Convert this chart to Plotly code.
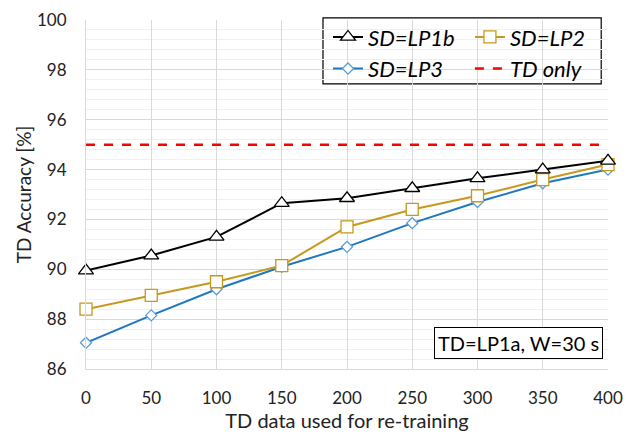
import plotly.graph_objects as go

x_vals = [0, 50, 100, 150, 200, 250, 300, 350, 400]
lp1b = [89.95, 90.55, 91.3, 92.65, 92.85, 93.25, 93.65, 94.0, 94.35]
lp2 = [88.4, 88.95, 89.5, 90.15, 91.7, 92.4, 92.95, 93.6, 94.2]
lp3 = [87.05, 88.15, 89.2, 90.1, 90.9, 91.85, 92.7, 93.45, 94.0]
td_only = [95.0] * len(x_vals)

font_family = "Lato, Open Sans, sans-serif"

fig = go.Figure()
fig.add_trace(go.Scatter(x=x_vals, y=td_only, name="TD only", mode="lines",
                         line=dict(color="#FF0000", width=2.5, dash="dash"),
                         legend="legend2", cliponaxis=False, legendrank=2))
fig.add_trace(go.Scatter(x=x_vals, y=lp3, name="SD=LP3", mode="lines+markers",
                         line=dict(color="#1F77C4", width=2),
                         marker=dict(symbol="diamond", size=8.5, color="white",
                                     line=dict(color="#5B9BD5", width=1.3)),
                         legend="legend", cliponaxis=False, legendrank=2))
fig.add_trace(go.Scatter(x=x_vals, y=lp2, name="SD=LP2", mode="lines+markers",
                         line=dict(color="#C49A1C", width=2),
                         marker=dict(symbol="square", size=12, color="white",
                                     line=dict(color="#C49A1C", width=1.3)),
                         legend="legend2", cliponaxis=False, legendrank=1))
fig.add_trace(go.Scatter(x=x_vals, y=lp1b, name="SD=LP1b", mode="lines+markers",
                         line=dict(color="black", width=2),
                         marker=dict(symbol="triangle-up", size=13, color="white",
                                     line=dict(color="black", width=1.3)),
                         legend="legend", cliponaxis=False, legendrank=1))

legend_font = dict(family=font_family, size=22, color="black", style="italic")

fig.update_layout(
    width=642, height=437,
    margin=dict(l=78, r=42, t=12, b=76, autoexpand=False),
    paper_bgcolor="white", plot_bgcolor="white",
    font=dict(family=font_family, size=17, color="#222"),
    showlegend=True,
    legend=dict(x=0.4636, y=1.011, xanchor="left", yanchor="top",
                bgcolor="rgba(0,0,0,0)", font=legend_font,
                tracegroupgap=0, itemwidth=30, traceorder="normal"),
    legend2=dict(x=0.7355, y=1.011, xanchor="left", yanchor="top",
                 bgcolor="rgba(0,0,0,0)", font=legend_font,
                 tracegroupgap=0, itemwidth=30, traceorder="normal"),
    xaxis=dict(range=[0, 400], tickvals=x_vals, showgrid=True, gridcolor="#D9D9D9",
               gridwidth=1, zeroline=False, showline=True, linecolor="#D9D9D9",
               ticks="outside", ticklen=14, tickcolor="rgba(0,0,0,0)",
               ticklabeloverflow="allow", automargin=False,
               tickfont=dict(size=17, color="#222"),
               title=dict(text="TD data used for re-training", font=dict(size=20), standoff=4)),
    yaxis=dict(range=[86, 100], dtick=2, showgrid=True, gridcolor="#D9D9D9",
               gridwidth=1, zeroline=False, showline=True, linecolor="#D9D9D9",
               ticks="outside", ticklen=15, tickcolor="rgba(0,0,0,0)",
               ticklabeloverflow="allow", automargin=False,
               tickfont=dict(size=17, color="#222"),
               minor=dict(dtick=0.4, showgrid=True, gridcolor="#F0F0F0", gridwidth=1),
               title=dict(text="TD Accuracy [%]", font=dict(size=19), standoff=0)),
    shapes=[dict(type="rect", xref="paper", yref="paper", x0=0.454, x1=0.987,
                 y0=0.817, y1=1.006, line=dict(color="black", width=1.2),
                 fillcolor="white", layer="below")],
    annotations=[dict(text="TD=LP1a, W=30 s", xref="paper", yref="paper",
                      x=0.99, y=0.03, xanchor="right", yanchor="bottom",
                      showarrow=False, font=dict(size=20, color="black"),
                      bordercolor="black", borderwidth=1, borderpad=3,
                      bgcolor="white")],
)

fig.write_html("out.html")
